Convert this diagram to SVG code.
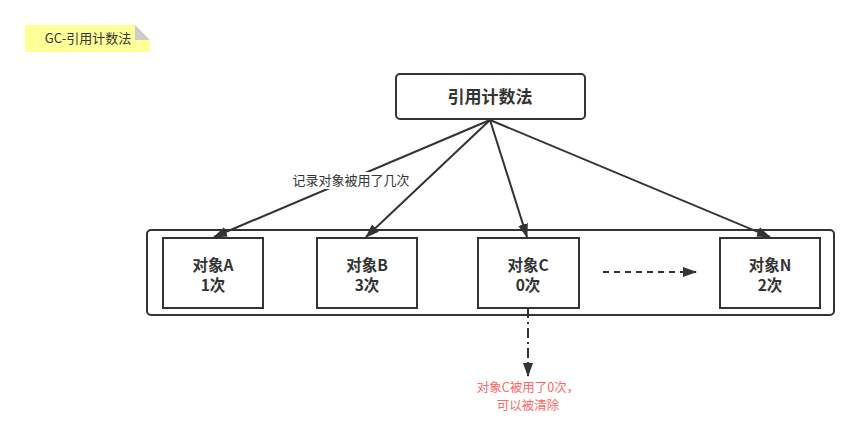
<svg xmlns="http://www.w3.org/2000/svg" width="860" height="441" viewBox="0 0 860 441">
<style>
text{font-family:"Microsoft YaHei","Noto Sans CJK SC","Open Sans",sans-serif;fill:#333;text-anchor:middle}
.node{fill:#fff;stroke:#333;stroke-width:2}
.b{font-weight:bold;font-size:15.5px}
.edge{stroke:#333;stroke-width:2;fill:none}
.red{fill:#ff6666;font-size:12.5px}
</style>
<defs>
<marker id="arr" markerWidth="14" markerHeight="12" refX="13" refY="6" orient="auto" markerUnits="userSpaceOnUse">
<path d="M0,1 L14,6 L0,11 Z" fill="#333"/>
</marker>
</defs>
<rect width="860" height="441" fill="#fff"/>
<g id="note">
<path d="M25,25 H135 L150,40 V52 H25 Z" fill="#ffff99"/>
<path d="M135,25 L150,40 H135 Z" fill="#ccc"/>
<text x="88" y="43" font-size="13">GC-引用计数法</text>
</g>
<g id="container"><rect class="node" x="147" y="230" width="687" height="85" rx="4"/></g>
<g id="root"><rect class="node" x="396" y="74" width="189" height="45" rx="4"/><text class="b" x="490" y="103" style="font-size:17px">引用计数法</text></g>
<g id="objA"><rect class="node" x="163" y="238" width="100" height="70"/><text class="b" x="213" y="271">对象A</text><text class="b" x="213" y="291">1次</text></g>
<g id="objB"><rect class="node" x="317" y="238" width="100" height="70"/><text class="b" x="367" y="271">对象B</text><text class="b" x="367" y="291">3次</text></g>
<g id="objC"><rect class="node" x="478" y="238" width="101" height="70"/><text class="b" x="528" y="271">对象C</text><text class="b" x="528" y="291">0次</text></g>
<g id="objN"><rect class="node" x="720" y="238" width="100" height="70"/><text class="b" x="770" y="271">对象N</text><text class="b" x="770" y="291">2次</text></g>
<g id="connectors">
<line class="edge" x1="490" y1="120" x2="214" y2="237" marker-end="url(#arr)"/>
<line class="edge" x1="490" y1="120" x2="366" y2="237" marker-end="url(#arr)"/>
<line class="edge" x1="490" y1="120" x2="527" y2="237" marker-end="url(#arr)"/>
<line class="edge" x1="490" y1="120" x2="770" y2="237" marker-end="url(#arr)"/>
<line class="edge" x1="603" y1="272" x2="696" y2="272" stroke-dasharray="6,5" marker-end="url(#arr)"/>
<line class="edge" x1="528" y1="308" x2="528" y2="376" stroke-dasharray="10,4,2,4" marker-end="url(#arr)"/>
<rect x="291" y="172" width="121" height="17" fill="#fff"/>
<text x="351" y="185" font-size="13">记录对象被用了几次</text>
</g>
<g id="note-c">
<text class="red" x="528" y="392">对象C被用了0次，</text>
<text class="red" x="528" y="410">可以被清除</text>
</g>
</svg>
